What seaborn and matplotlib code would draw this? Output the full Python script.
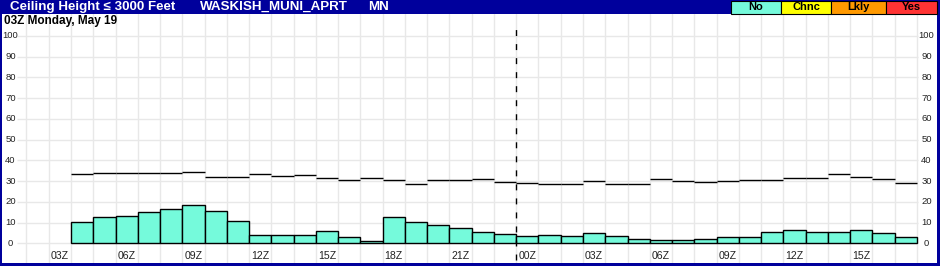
import numpy as np
import pandas as pd
import matplotlib
matplotlib.use("Agg")
import matplotlib.pyplot as plt
import seaborn as sns
from matplotlib.patches import Rectangle

sns.set_theme(style="white")
plt.rcParams["font.family"] = ["Liberation Sans", "DejaVu Sans"]

# ---------------- data ----------------
title_text = "Ceiling Height \u2264 3000 Feet"
station = "WASKISH_MUNI_APRT"
state = "MN"
start_label = "03Z Monday, May 19"
legend_labels = ["No", "Chnc", "Lkly", "Yes"]
legend_colors = ["#75FADB", "#FFFF00", "#FF9900", "#FF3333"]

hour_labels = ["03Z", "06Z", "09Z", "12Z", "15Z", "18Z", "21Z",
               "00Z", "03Z", "06Z", "09Z", "12Z", "15Z"]
label_slots = [1, 4, 7, 10, 13, 16, 19, 22, 25, 28, 31, 34, 37]
bar_slots = list(range(2, 40))
no_pct = [10.2, 12.6, 13.1, 15.0, 16.5, 18.4, 15.5, 10.6, 4.2, 4.2,
          4.2, 6.0, 2.9, 1.0, 12.6, 10.2, 8.7, 7.3, 5.3, 4.4,
          3.4, 3.9, 3.4, 4.8, 3.4, 2.1, 1.5, 1.5, 2.1, 2.9,
          2.9, 5.3, 6.5, 5.3, 5.3, 6.5, 4.8, 2.9]
line_val = [33.5, 33.9, 33.9, 33.9, 33.9, 34.4, 31.9, 31.9, 33.5, 32.4,
            32.9, 31.5, 30.5, 31.5, 30.5, 28.7, 30.5, 30.5, 31.0, 29.5,
            29.2, 28.7, 28.7, 30.0, 28.7, 28.7, 31.0, 30.0, 29.5, 30.0,
            30.5, 30.5, 31.5, 31.5, 33.5, 31.9, 31.0, 29.2]
day_break_slot = 22
y_ticks = [0, 10, 20, 30, 40, 50, 60, 70, 80, 90, 100]
n_slots = 40

# ---------------- figure ----------------
W, H = 940, 266
navy = "#00009C"
fig = plt.figure(figsize=(W / 100, H / 100), dpi=100, facecolor=navy)

def fx(px):
    return px / W

def fy(py):
    return 1 - py / H

ax = fig.add_axes([fx(2), 3 / H, (937 - 2) / W, (263 - 14) / H])
ax.set_facecolor("white")
slot_px = 22.26
x0_px = 26.5
xlim = ((2 - x0_px) / slot_px, (937 - x0_px) / slot_px)
ylim = (-9.5, 110.6)

grid_c = "#E8E8E8"
for k in range(n_slots + 1):
    ax.axvline(k, color=grid_c, lw=1.0, zorder=0)
ax.hlines(y_ticks, (17 - x0_px) / slot_px, (918 - x0_px) / slot_px,
          color=grid_c, lw=1.0, zorder=0)

df = pd.DataFrame({"x": [s + 0.5 for s in bar_slots], "y": no_pct})
sns.barplot(data=df, x="x", y="y", native_scale=True, width=1.0,
            color=legend_colors[0], saturation=1, edgecolor="black",
            linewidth=1.0, ax=ax, zorder=2)
ax.set_xlim(*xlim)
ax.set_ylim(*ylim)
ax.set_xlabel("")
ax.set_ylabel("")
ax.set_xticks([])
ax.set_yticks([])
for s in ax.spines.values():
    s.set_visible(False)

ax.hlines(line_val, bar_slots, [s + 1 for s in bar_slots],
          color="black", lw=1.0, zorder=3)

ln = ax.vlines(day_break_slot, -8.2, 106, color="black", lw=1.0, zorder=4)
ln.set_linestyle((0, (4.3, 5.8)))

# y tick labels, both sides
for v in y_ticks:
    ax.text((10.5 - x0_px) / slot_px, v, str(v), ha="center", va="center",
            fontsize=6.8, color="#222222")
    ax.text((926.5 - x0_px) / slot_px, v, str(v), ha="center", va="center",
            fontsize=6.8, color="#222222")
for s, lab in zip(label_slots, hour_labels):
    ax.text(s + 0.5, (243.3 - 256) / 2.073, lab, ha="center", va="center",
            fontsize=7.6, color="#222222")

# header
fig.text(fx(10), fy(7), title_text, color="white", fontsize=9.6,
         fontweight="bold", ha="left", va="center")
fig.text(fx(200), fy(7), station, color="white", fontsize=9.6,
         fontweight="bold", ha="left", va="center")
fig.text(fx(368), fy(7), state, color="white", fontsize=9.6,
         fontweight="bold", ha="left", va="center")

edges = [731, 781, 831, 886, 937]
for i, (lab, c) in enumerate(zip(legend_labels, legend_colors)):
    fig.patches.append(Rectangle((fx(edges[i]), fy(13.5)),
                                 (edges[i + 1] - edges[i]) / W, 12.5 / H,
                                 transform=fig.transFigure, facecolor=c,
                                 edgecolor="black", lw=0.8))
    fig.text(fx((edges[i] + edges[i + 1]) / 2), fy(7.3), lab, color="black",
             fontsize=8, fontweight="bold", ha="center", va="center")

fig.text(fx(4), fy(21), start_label, color="black", fontsize=8.5,
         fontweight="bold", ha="left", va="center")

fig.savefig("out.png", dpi=100, facecolor=navy)
